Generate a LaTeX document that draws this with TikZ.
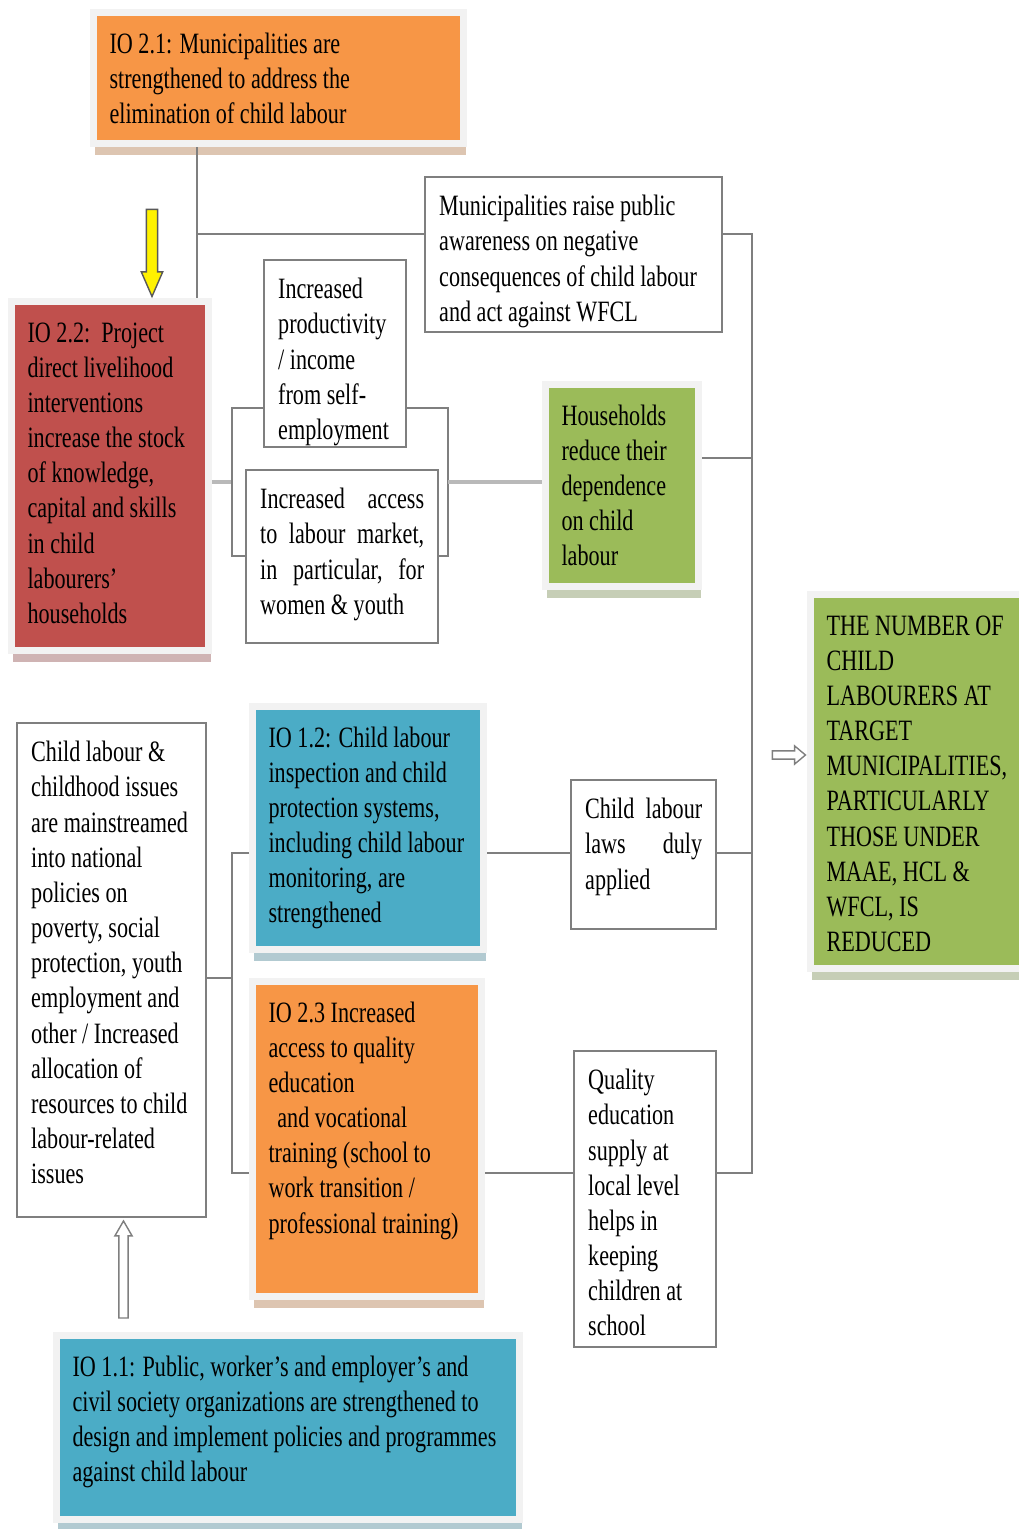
\documentclass[tikz,border=0pt]{standalone}
\usepackage{fontspec}
\setmainfont{Liberation Serif}[FakeStretch=0.75]
\usepackage{xcolor}
\usepackage{tikz}
\usetikzlibrary{positioning}
\usetikzlibrary{shapes.arrows}
\usetikzlibrary{shadows}
\definecolor{ioorange}{HTML}{F79646}
\definecolor{iored}{HTML}{C0504D}
\definecolor{ioblue}{HTML}{4BACC6}
\definecolor{iogreen}{HTML}{9BBB59}
\definecolor{edgegray}{HTML}{7F7F7F}
\newlength{\pxu}
\setlength{\pxu}{0.025cm}
\newcommand{\boxfont}{\fontsize{21}{25}\selectfont}
\newcommand{\btext}[3]{\parbox[c][#1\pxu][t]{#2\pxu}{\raggedright\strut #3}}
\tikzset{
    iobox/.style = {rectangle, anchor=north west, fill=#1, draw=black!5, line width=5pt, inner sep=11.4pt, outer sep=2.5pt, font=\boxfont, drop shadow={shadow xshift=1.4pt, shadow yshift=-8.2pt, fill=#1!50!gray!50, opacity=1}},
    txtbox/.style = {rectangle, anchor=north west, fill=white, draw=edgegray, line width=1.6pt, inner sep=10pt, outer sep=0.8pt, font=\boxfont},
    edgen/.style = {draw=edgegray, line width=1.6pt},
    edgew/.style = {draw=gray!55, line width=3pt},
    fatarrow/.style = {single arrow, draw=edgegray, line width=1pt, inner xsep=0pt, outer sep=0pt, single arrow head indent=0pt},
}

\begin{document}
\begin{tikzpicture}[x=0.025cm, y=-0.025cm]
\useasboundingbox (0,0) rectangle (1018,1529);
% boxes
\node[iobox=ioorange] at (90,9) (io21) {\btext{99}{338}{IO 2.1: Municipalities are\\ strengthened to address the\\ elimination of child labour}};
\node[iobox=iored] at (8,298) (io22) {\btext{317}{165}{IO 2.2:\ \ Project\\ direct livelihood\\ interventions\\ increase the stock\\ of knowledge,\\ capital and skills\\ in child\\ labourers’\\ households}};
\node[txtbox] at (424,176) (aware) {\btext{127}{269}{Municipalities raise public\\ awareness on negative\\ consequences of child labour\\ and act against WFCL}};
\node[txtbox] at (263,259) (income) {\btext{159}{114}{Increased\\ productivity\\ / income\\ from self-\\ employment}};
\node[txtbox] at (245,469) (market) {\btext{145}{164}{Increased\hfill access\\ to\hfill labour\hfill market,\\ in\hfill particular,\hfill for\\ women \& youth}};
\node[iobox=iogreen] at (542,381) (house) {\btext{170}{121}{Households\\ reduce their\\ dependence\\ on child\\ labour}};
\node[iobox=iogreen] at (807,591) (goal) {\btext{342}{191}{THE NUMBER OF\\ CHILD\\ LABOURERS AT\\ TARGET\\ MUNICIPALITIES,\\ PARTICULARLY\\ THOSE UNDER\\ MAAE, HCL \&\\ WFCL, IS\\ REDUCED}};
\node[txtbox] at (16,722) (policy) {\btext{466}{161}{Child labour \&\\ childhood issues\\ are mainstreamed\\ into national\\ policies on\\ poverty, social\\ protection, youth\\ employment and\\ other / Increased\\ allocation of\\ resources to child\\ labour-related\\ issues}};
\node[iobox=ioblue] at (249,703) (io12) {\btext{211}{199}{IO 1.2: Child labour\\ inspection and child\\ protection systems,\\ including child labour\\ monitoring, are\\ strengthened}};
\node[txtbox] at (570,779) (laws) {\btext{121}{117}{Child\hfill labour\\ laws\hfill duly\\ applied}};
\node[iobox=ioorange] at (249,978) (io23) {\btext{283}{197}{IO 2.3 Increased\\ access to quality\\ education\\ \hspace*{0.3em}and vocational\\ training (school to\\ work transition /\\ professional training)}};
\node[txtbox] at (573,1050) (school) {\btext{268}{114}{Quality\\ education\\ supply at\\ local level\\ helps in\\ keeping\\ children at\\ school}};
\node[iobox=ioblue] at (53,1332) (io11) {\btext{152}{431}{IO 1.1: Public, worker’s and employer’s and\\ civil society organizations are strengthened to\\ design and implement policies and programmes\\ against child labour}};
% junctions
\coordinate (stem) at (197,234);
\coordinate (busa) at (752,234);
\coordinate (busb) at (752,458);
\coordinate (busc) at (752,853);
\coordinate (busd) at (752,1173);
\coordinate (lta) at (232,408);
\coordinate (ltm) at (232,482);
\coordinate (ltb) at (232,556);
\coordinate (rta) at (448,408);
\coordinate (rtm) at (448,482);
\coordinate (rtb) at (448,556);
\coordinate (lba) at (232,853);
\coordinate (lbm) at (232,978);
\coordinate (lbb) at (232,1173);
% connectors
\draw[edgen] (io21.south -| stem) -- (io22.north -| stem);
\draw[edgen] (stem) -- (aware.west |- stem);
\draw[edgen] (aware.east |- busa) -- (busa) -- (busd) -- (school.east |- busd);
\draw[edgen] (house.east |- busb) -- (busb);
\draw[edgen] (laws.east |- busc) -- (busc);
\draw[edgew] (io22.east |- ltm) -- (ltm);
\draw[edgen] (income.west |- lta) -- (lta) -- (ltb) -- (market.west |- ltb);
\draw[edgen] (income.east |- rta) -- (rta) -- (rtb) -- (market.east |- rtb);
\draw[edgew] (rtm) -- (house.west |- rtm);
\draw[edgen] (policy.east |- lbm) -- (lbm);
\draw[edgen] (io12.west |- lba) -- (lba) -- (lbb) -- (io23.west |- lbb);
\draw[edgen] (io12.east |- lba) -- (laws.west |- lba);
\draw[edgen] (io23.east |- lbb) -- (school.west |- lbb);
% block arrows
\node[fatarrow, fill=yellow, draw=gray!70!black, rotate=-90, minimum height=61.9pt, inner ysep=3.5pt, single arrow head extend=3.6pt, single arrow tip angle=47] at (152,246.5) (ydown) {};
\node[fatarrow, fill=white, rotate=90, minimum height=69pt, inner ysep=2.8pt, single arrow head extend=2.8pt, single arrow tip angle=60] at (123.5,1273.5) (upar) {};
\node[fatarrow, fill=white, minimum height=23.5pt, inner ysep=2.4pt, single arrow head extend=3.6pt, single arrow tip angle=80] at (786.5,755) (rightar) {};
\end{tikzpicture}
\end{document}
